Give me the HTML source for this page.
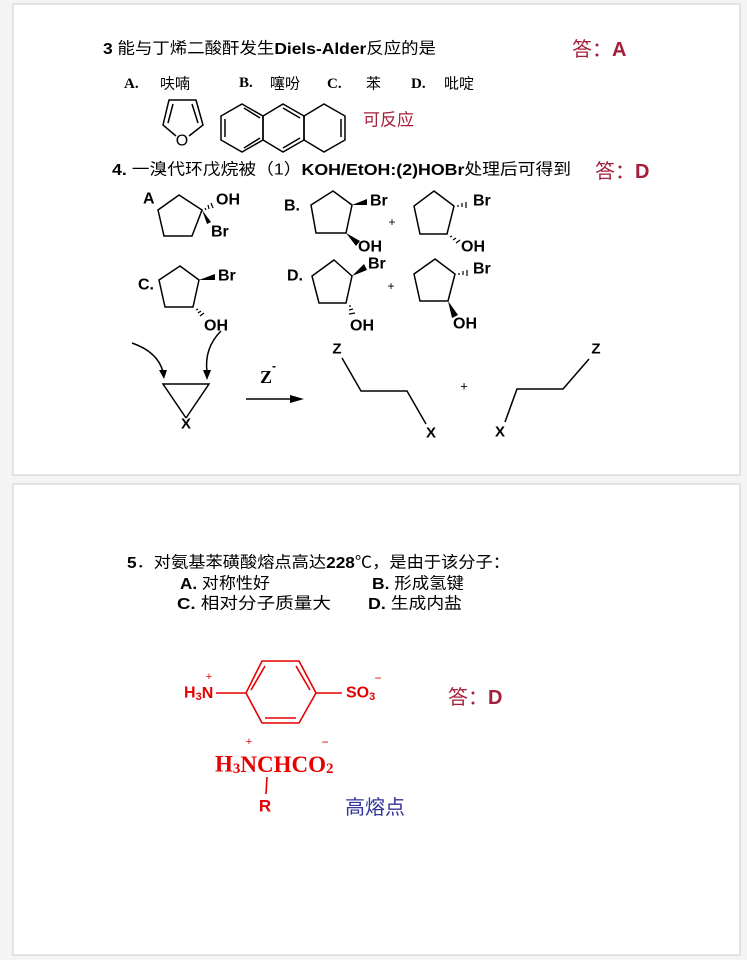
<!DOCTYPE html>
<html><head><meta charset="utf-8"><style>
html,body{margin:0;padding:0;background:#f4f4f4;}
svg{display:block}
text{font-family:"Liberation Sans","Noto Sans CJK SC",sans-serif;dominant-baseline:central;}
.s{font-family:"Liberation Serif","Noto Serif CJK SC",serif;font-weight:bold}
</style></head><body>
<svg width="747" height="960" viewBox="0 0 747 960" xmlns="http://www.w3.org/2000/svg">
<rect x="13" y="4" width="727" height="471" fill="#fff" stroke="#ccc" stroke-width="1"/>
<rect x="13" y="484" width="727" height="471" fill="#fff" stroke="#ccc" stroke-width="1"/>

<!-- Q3 -->
<text x="103" y="49" font-size="16" fill="#000" textLength="333" lengthAdjust="spacingAndGlyphs"><tspan font-weight="bold">3</tspan> 能与丁烯二酸酐发生<tspan font-weight="bold">Diels-Alder</tspan>反应的是</text>
<text x="572" y="50" font-size="20" fill="#a31f3a">答：<tspan font-weight="bold">A</tspan></text>
<text x="124" y="84" font-size="15" class="s">A.</text>
<text x="160" y="84" font-size="15">呋喃</text>
<text x="239" y="83" font-size="15" class="s">B.</text>
<text x="270" y="84" font-size="15">噻吩</text>
<text x="327" y="84" font-size="15" class="s">C.</text>
<text x="366" y="84" font-size="15">苯</text>
<text x="411" y="84" font-size="15" class="s">D.</text>
<text x="444" y="84" font-size="15">吡啶</text>

<g stroke="#000" stroke-width="1.5" fill="none">
<polyline points="176,136 163,125 169,100 196,100 203,125 189,136"/>
<line x1="173" y1="104" x2="168" y2="123"/>
<line x1="192" y1="104" x2="198" y2="123"/>
<polygon points="242,104 263,116 263,140 242,152 221,140 221,116"/>
<polygon points="283,104 304,116 304,140 283,152 263,140 263,116"/>
<polygon points="324,104 345,116 345,140 324,152 304,140 304,116"/>
<line x1="225" y1="119" x2="225" y2="137"/>
<line x1="244" y1="108" x2="260" y2="118"/>
<line x1="244" y1="148" x2="260" y2="138"/>
<line x1="283" y1="108" x2="300" y2="118"/>
<line x1="283" y1="148" x2="300" y2="138"/>
<line x1="341" y1="119" x2="341" y2="137"/>
</g>
<text x="182" y="141" font-size="16" text-anchor="middle">O</text>
<text x="363" y="120" font-size="17" fill="#a31f3a">可反应</text>

<!-- Q4 -->
<text x="112" y="170" font-size="16" textLength="459" lengthAdjust="spacingAndGlyphs"><tspan font-weight="bold">4.</tspan>   一溴代环戊烷被（1）<tspan font-weight="bold">KOH/EtOH:(2)HOBr</tspan>处理后可得到</text>
<text x="595" y="172" font-size="20" fill="#a31f3a">答：<tspan font-weight="bold">D</tspan></text>

<g stroke="#000" stroke-width="1.5" fill="none">
<polygon points="179,195 202,210 192,236 164,236 158,210"/>
<polygon points="333,191 352,205 346,233 316,233 311,205"/>
<polygon points="434,191 454,206 447,234 420,234 414,206"/>
<polygon points="180,266 199,280 193,307 165,307 159,280"/>
<polygon points="334,260 352,276 346,303 319,303 312,276"/>
<polygon points="435,259 455,274 448,301 420,301 414,274"/>
</g>
<g fill="#000">
<polygon points="202,210 207,224 211,222"/>
<polygon points="352,205 367,199 367,205"/>
<polygon points="346,233 356,246 360,241"/>
<polygon points="199,280 215,274 215,280"/>
<polygon points="352,276 364,264 367,270"/>
<polygon points="448,301 452,318 458,315"/>
</g>
<g stroke="#000" stroke-width="1.2">
<line x1="205" y1="208" x2="206" y2="210"/><line x1="208" y1="205" x2="209" y2="209"/><line x1="211" y1="203" x2="213" y2="208"/>
<line x1="458" y1="205" x2="458" y2="207"/><line x1="462" y1="203" x2="462" y2="207"/><line x1="466" y1="202" x2="466" y2="208"/>
<line x1="450" y1="237" x2="452" y2="236"/><line x1="453" y1="240" x2="456" y2="238"/><line x1="456" y1="243" x2="460" y2="240"/>
<line x1="196" y1="310" x2="198" y2="309"/><line x1="198" y1="313" x2="201" y2="311"/><line x1="200" y1="316" x2="204" y2="313"/>
<line x1="349" y1="306" x2="351" y2="306"/><line x1="349" y1="310" x2="353" y2="309"/><line x1="349" y1="314" x2="355" y2="313"/>
<line x1="459" y1="273" x2="459" y2="275"/><line x1="463" y1="271" x2="463" y2="275"/><line x1="467" y1="270" x2="467" y2="276"/>
</g>
<g font-size="16" font-weight="bold">
<text x="143" y="199">A</text>
<text x="216" y="200">OH</text>
<text x="211" y="232">Br</text>
<text x="284" y="206">B.</text>
<text x="370" y="201">Br</text>
<text x="358" y="247">OH</text>
<text x="473" y="201">Br</text>
<text x="461" y="247">OH</text>
<text x="138" y="285">C.</text>
<text x="218" y="276">Br</text>
<text x="204" y="326">OH</text>
<text x="287" y="276">D.</text>
<text x="368" y="264">Br</text>
<text x="350" y="326">OH</text>
<text x="473" y="269">Br</text>
<text x="453" y="324">OH</text>
</g>
<text x="392" y="222" font-size="12" text-anchor="middle">+</text>
<text x="391" y="286" font-size="12" text-anchor="middle">+</text>

<g stroke="#000" stroke-width="1.5" fill="none">
<path d="M132,343 Q158,352 163,372"/>
<path d="M221,331 Q204,348 207,372"/>
<polyline points="186,418 163,384 209,384 186,418"/>
<line x1="246" y1="399" x2="292" y2="399"/>
<polyline points="342,358 361,391 407,391 426,424"/>
<polyline points="505,422 517,389 563,389 589,359"/>
</g>
<g fill="#000">
<polygon points="159,370 167,370 164,379"/>
<polygon points="203,370 211,370 207,380"/>
<polygon points="290,395 304,399 290,403"/>
</g>
<g font-size="15" font-weight="bold" text-anchor="middle">
<text x="186" y="424">X</text>
<text x="337" y="349">Z</text>
<text x="431" y="433">X</text>
<text x="500" y="432">X</text>
<text x="596" y="349">Z</text>
</g>
<text x="260" y="377" font-size="18" class="s">Z</text>
<text x="272" y="366" font-size="12" font-weight="bold">-</text>
<text x="464" y="386" font-size="13" text-anchor="middle">+</text>

<!-- Q5 -->
<text x="127" y="563" font-size="16" textLength="383" lengthAdjust="spacingAndGlyphs"><tspan font-weight="bold">5</tspan>．对氨基苯磺酸熔点高达<tspan font-weight="bold">228</tspan>℃，是由于该分子：</text>
<text x="180" y="584" font-size="16" textLength="90" lengthAdjust="spacingAndGlyphs"><tspan font-weight="bold">A.</tspan> 对称性好</text>
<text x="372" y="584" font-size="16" textLength="92" lengthAdjust="spacingAndGlyphs"><tspan font-weight="bold">B.</tspan> 形成氢键</text>
<text x="177" y="604" font-size="16" textLength="154" lengthAdjust="spacingAndGlyphs"><tspan font-weight="bold">C.</tspan>  相对分子质量大</text>
<text x="368" y="604" font-size="16" textLength="94" lengthAdjust="spacingAndGlyphs"><tspan font-weight="bold">D.</tspan> 生成内盐</text>

<g stroke="#e60000" stroke-width="1.6" fill="none">
<polygon points="262,661 299,661 316,693 299,723 262,723 246,693"/>
<line x1="251" y1="690" x2="265" y2="666"/>
<line x1="296" y1="666" x2="310" y2="690"/>
<line x1="265" y1="718" x2="296" y2="718"/>
<line x1="216" y1="693" x2="246" y2="693"/>
<line x1="316" y1="693" x2="342" y2="693"/>
<line x1="267" y1="777" x2="266" y2="794"/>
</g>
<g fill="#e60000">
<text x="184" y="693" font-size="16" font-weight="bold">H<tspan font-size="11" dy="4">3</tspan><tspan dy="-4">N</tspan></text>
<text x="209" y="677" font-size="11" text-anchor="middle">+</text>
<text x="346" y="693" font-size="16" font-weight="bold">SO<tspan font-size="11" dy="4">3</tspan></text>
<text x="378" y="678" font-size="12" text-anchor="middle">−</text>
<text x="215" y="764" font-size="23" class="s">H<tspan font-size="15" dy="5">3</tspan><tspan dy="-5">NCHCO</tspan><tspan font-size="15" dy="5">2</tspan></text>
<text x="249" y="742" font-size="11" text-anchor="middle">+</text>
<text x="325" y="742" font-size="12" text-anchor="middle">−</text>
<text x="265" y="806" font-size="17" text-anchor="middle" font-weight="bold">R</text>
</g>
<text x="448" y="698" font-size="20" fill="#a31f3a">答：<tspan font-weight="bold">D</tspan></text>
<text x="345" y="808" font-size="20" fill="#333399">高熔点</text>
</svg>
</body></html>
